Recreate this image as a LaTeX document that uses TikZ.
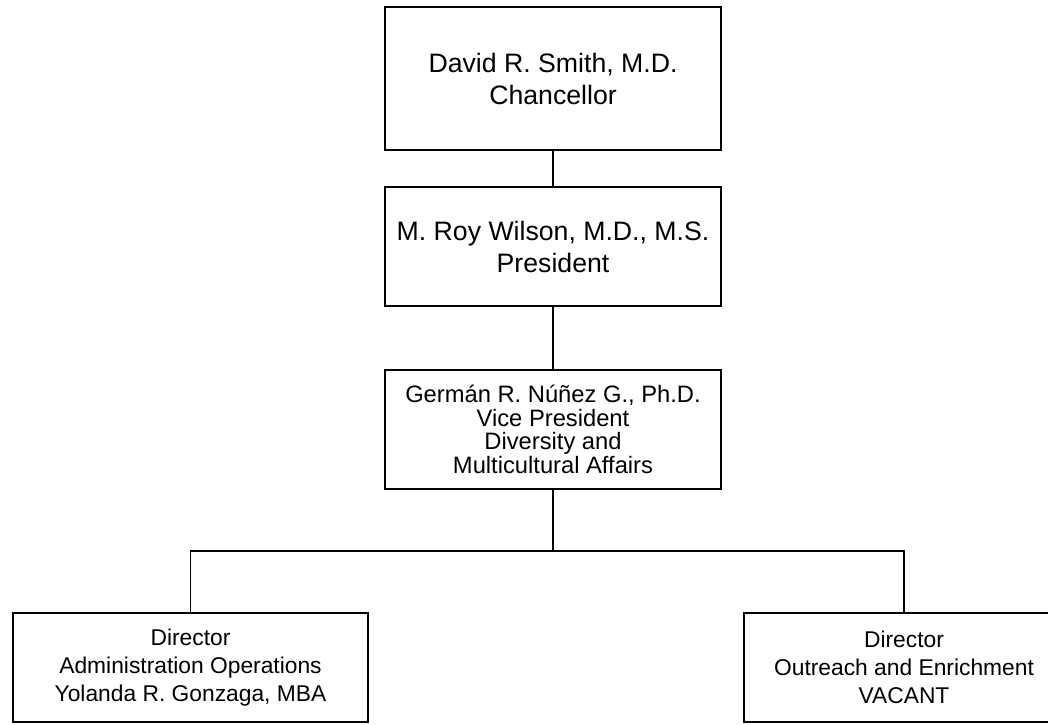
\documentclass[tikz,border=0pt]{standalone}
\usepackage{fontspec}
\setmainfont{Liberation Sans}
\begin{document}
\begin{tikzpicture}[x=0.75pt,y=-0.75pt,
  orgbox/.style={draw=black,line width=1.35pt,rectangle,align=center,inner sep=0pt,fill=white},
  bigtext/.style={font=\fontsize{20}{24}\selectfont},
  midtext/.style={font=\fontsize{17.8}{17.8}\selectfont},
  smalltext/.style={font=\fontsize{17.1}{20.8}\selectfont},
  link/.style={draw=black,line width=1.35pt}]
\useasboundingbox (0,0) rectangle (1048,724);
\node[orgbox,bigtext,minimum width=336*0.75pt,minimum height=143*0.75pt] (b1) at (553,78.5) {David R. Smith, M.D.\\Chancellor};
\node[orgbox,bigtext,minimum width=336*0.75pt,minimum height=119*0.75pt] (b2) at (553,246.5) {M. Roy Wilson, M.D., M.S.\\President};
\node[orgbox,midtext,minimum width=336*0.75pt,minimum height=119*0.75pt] (b3) at (553,429.5) {Germán R. Núñez G., Ph.D.\\Vice President\\Diversity and\\Multicultural Affairs};
\node[orgbox,smalltext,minimum width=355*0.75pt,minimum height=109*0.75pt] (b4) at (190.5,667.5) {Director\\Administration Operations\\Yolanda R. Gonzaga, MBA};
\node[orgbox,smalltext,minimum width=320*0.75pt,minimum height=109*0.75pt] (b5) at (904,667.5) {Director\\Outreach and Enrichment\\VACANT};
\coordinate (bar) at (553,551);
\draw[link] (b1) -- (b2);
\draw[link] (b2) -- (b3);
\draw[link] (b3) -- (bar);
\draw[link] (b4.north) |- (bar) -| (b5.north);
\end{tikzpicture}
\end{document}
